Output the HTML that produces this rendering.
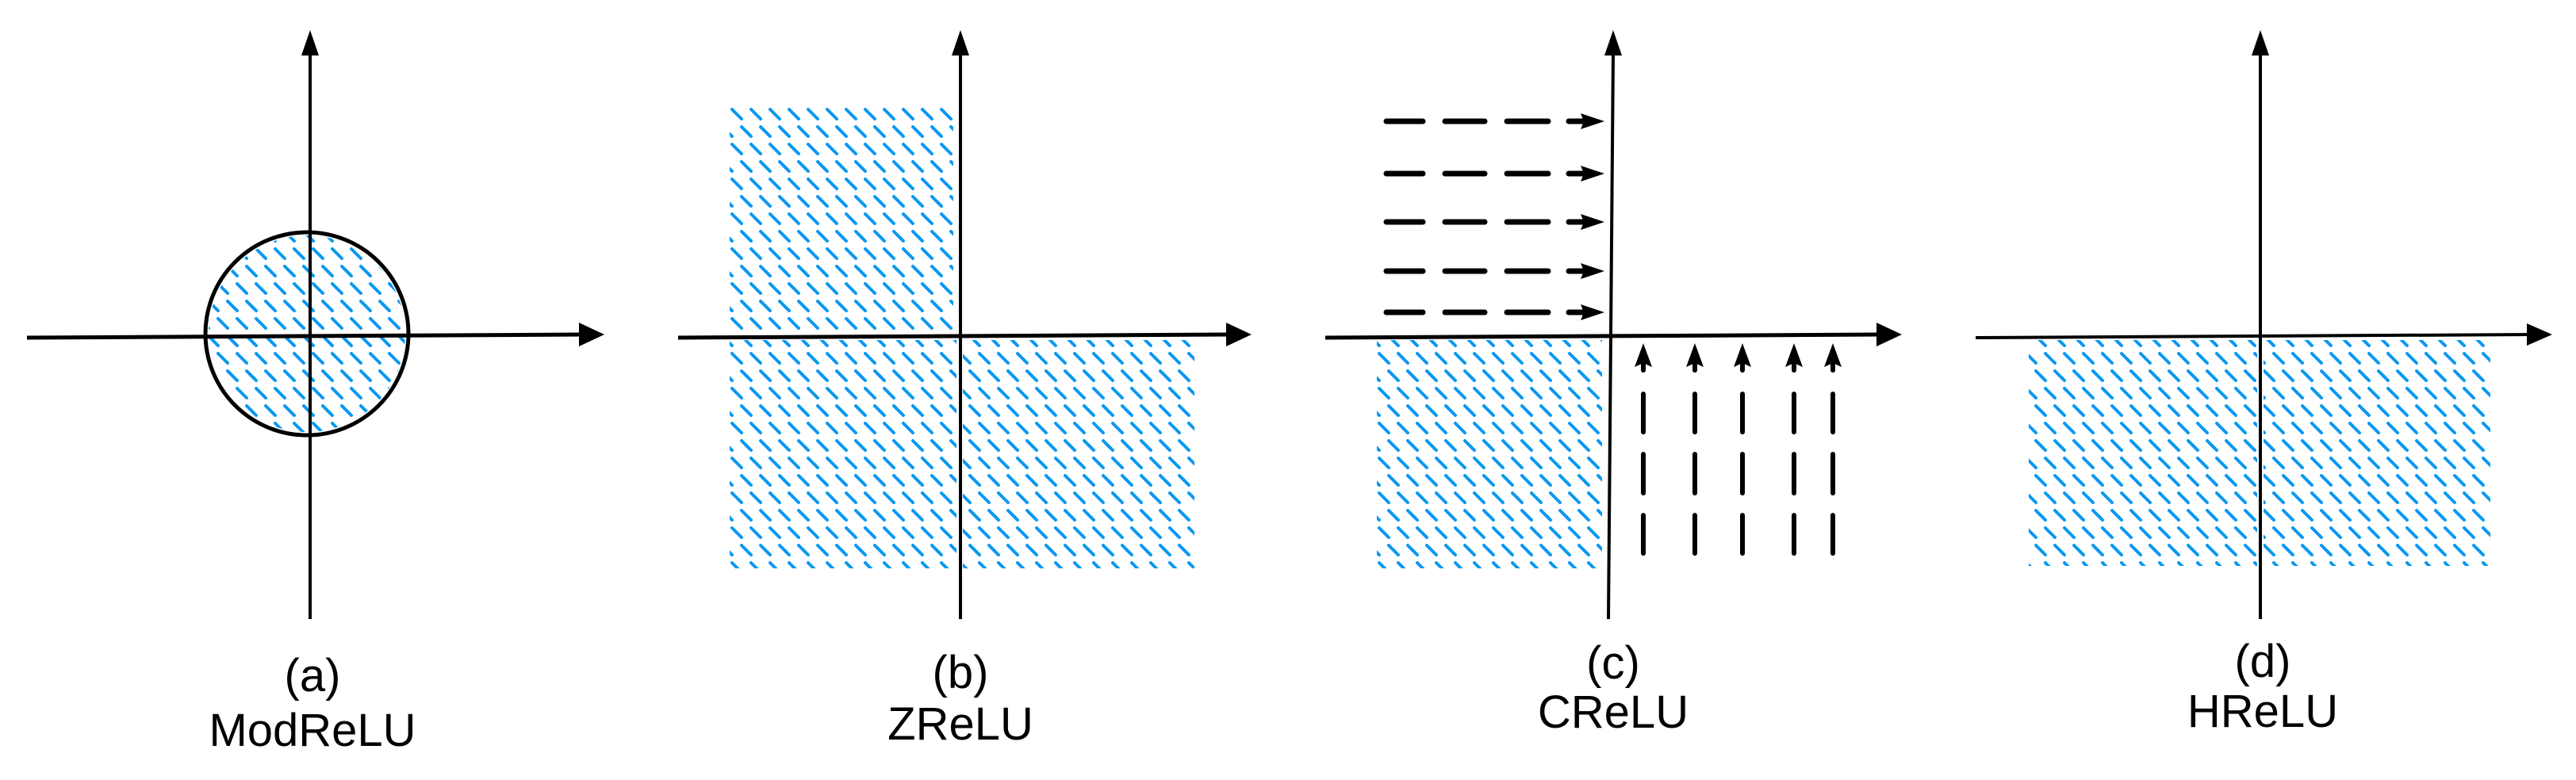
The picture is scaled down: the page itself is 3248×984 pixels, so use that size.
<!DOCTYPE html>
<html><head><meta charset="utf-8"><style>
html,body{margin:0;padding:0;background:#fff;}
svg{display:block;}
text{font-family:"Liberation Sans",Arial,sans-serif;font-size:58px;fill:#000;text-anchor:middle;}
</style></head><body>
<svg width="3248" height="984" viewBox="0 0 3248 984" xmlns="http://www.w3.org/2000/svg">
<defs>
<pattern id="h" patternUnits="userSpaceOnUse" x="920" y="135" width="24" height="44">
<line x1="3" y1="3" x2="15" y2="15" stroke="#0a98f2" stroke-width="4" stroke-linecap="round"/>
<line x1="15" y1="25" x2="27" y2="37" stroke="#0a98f2" stroke-width="4" stroke-linecap="round"/>
<line x1="-9" y1="25" x2="3" y2="37" stroke="#0a98f2" stroke-width="4" stroke-linecap="round"/>
</pattern>
<clipPath id="circ"><ellipse cx="387" cy="421" rx="124" ry="124"/></clipPath>
</defs>

<!-- Panel a -->
<rect x="250" y="280" width="280" height="280" fill="url(#h)" clip-path="url(#circ)"/>
<ellipse cx="387" cy="421" rx="128" ry="128" fill="none" stroke="#000" stroke-width="5"/>
<line x1="391" y1="66" x2="391" y2="781" stroke="#000" stroke-width="4"/>
<polygon points="391,38 380,70 402,70" fill="#000"/>
<line x1="34" y1="426" x2="735" y2="422" stroke="#000" stroke-width="5"/>
<polygon points="762,422 730,407 730,437" fill="#000"/>
<text x="394" y="872">(a)</text>
<text x="394" y="941">ModReLU</text>

<!-- Panel b -->
<rect x="920" y="135" width="282" height="285" fill="url(#h)"/>
<rect x="920" y="429" width="286" height="288" fill="url(#h)"/>
<rect x="1214" y="429" width="292" height="288" fill="url(#h)"/>
<line x1="1211" y1="66" x2="1211" y2="781" stroke="#000" stroke-width="4"/>
<polygon points="1211,38 1200,70 1222,70" fill="#000"/>
<line x1="855" y1="426" x2="1550" y2="422" stroke="#000" stroke-width="5"/>
<polygon points="1578,422 1546,407 1546,437" fill="#000"/>
<text x="1211" y="868">(b)</text>
<text x="1211" y="933">ZReLU</text>

<!-- Panel c -->
<rect x="1736" y="429" width="284" height="288" fill="url(#h)"/>
<line x1="2034" y1="66" x2="2028" y2="781" stroke="#000" stroke-width="4"/>
<polygon points="2034,38 2023,70 2045,70" fill="#000"/>
<line x1="1671" y1="426" x2="2370" y2="422" stroke="#000" stroke-width="5"/>
<polygon points="2398,422 2366,407 2366,437" fill="#000"/>
<g stroke="#000" stroke-width="7" stroke-linecap="round">
<line x1="1748" y1="153" x2="1794" y2="153"/><line x1="1822" y1="153" x2="1872" y2="153"/><line x1="1900" y1="153" x2="1952" y2="153"/><line x1="1978" y1="153" x2="2000" y2="153"/>
<line x1="1748" y1="219" x2="1794" y2="219"/><line x1="1822" y1="219" x2="1872" y2="219"/><line x1="1900" y1="219" x2="1952" y2="219"/><line x1="1978" y1="219" x2="2000" y2="219"/>
<line x1="1748" y1="280" x2="1794" y2="280"/><line x1="1822" y1="280" x2="1872" y2="280"/><line x1="1900" y1="280" x2="1952" y2="280"/><line x1="1978" y1="280" x2="2000" y2="280"/>
<line x1="1748" y1="342" x2="1794" y2="342"/><line x1="1822" y1="342" x2="1872" y2="342"/><line x1="1900" y1="342" x2="1952" y2="342"/><line x1="1978" y1="342" x2="2000" y2="342"/>
<line x1="1748" y1="394" x2="1794" y2="394"/><line x1="1822" y1="394" x2="1872" y2="394"/><line x1="1900" y1="394" x2="1952" y2="394"/><line x1="1978" y1="394" x2="2000" y2="394"/>
</g>
<g fill="#000">
<polygon points="2023,153 1993,143 1997,153 1993,163"/>
<polygon points="2023,219 1993,209 1997,219 1993,229"/>
<polygon points="2023,280 1993,270 1997,280 1993,290"/>
<polygon points="2023,342 1993,332 1997,342 1993,352"/>
<polygon points="2023,394 1993,384 1997,394 1993,404"/>
</g>
<g stroke="#000" stroke-width="6" stroke-linecap="round">
<line x1="2072" y1="450" x2="2072" y2="467"/><line x1="2072" y1="497" x2="2072" y2="545"/><line x1="2072" y1="573" x2="2072" y2="622"/><line x1="2072" y1="650" x2="2072" y2="698"/>
<line x1="2137" y1="450" x2="2137" y2="467"/><line x1="2137" y1="497" x2="2137" y2="545"/><line x1="2137" y1="573" x2="2137" y2="622"/><line x1="2137" y1="650" x2="2137" y2="698"/>
<line x1="2197" y1="450" x2="2197" y2="467"/><line x1="2197" y1="497" x2="2197" y2="545"/><line x1="2197" y1="573" x2="2197" y2="622"/><line x1="2197" y1="650" x2="2197" y2="698"/>
<line x1="2262" y1="450" x2="2262" y2="467"/><line x1="2262" y1="497" x2="2262" y2="545"/><line x1="2262" y1="573" x2="2262" y2="622"/><line x1="2262" y1="650" x2="2262" y2="698"/>
<line x1="2311" y1="450" x2="2311" y2="467"/><line x1="2311" y1="497" x2="2311" y2="545"/><line x1="2311" y1="573" x2="2311" y2="622"/><line x1="2311" y1="650" x2="2311" y2="698"/>
</g>
<g fill="#000">
<polygon points="2072,433 2061,463 2072,458 2083,463"/>
<polygon points="2137,433 2126,463 2137,458 2148,463"/>
<polygon points="2197,433 2186,463 2197,458 2208,463"/>
<polygon points="2262,433 2251,463 2262,458 2273,463"/>
<polygon points="2311,433 2300,463 2311,458 2322,463"/>
</g>
<text x="2034" y="856">(c)</text>
<text x="2034" y="918">CReLU</text>

<!-- Panel d -->
<rect x="2558" y="429" width="288" height="285" fill="url(#h)"/>
<rect x="2854" y="429" width="286" height="285" fill="url(#h)"/>
<line x1="2850" y1="66" x2="2850" y2="781" stroke="#000" stroke-width="4"/>
<polygon points="2850,38 2839,70 2861,70" fill="#000"/>
<line x1="2491" y1="426" x2="3190" y2="422" stroke="#000" stroke-width="4"/>
<polygon points="3218,422 3186,408 3186,436" fill="#000"/>
<text x="2853" y="854">(d)</text>
<text x="2853" y="917">HReLU</text>
</svg>
</body></html>
